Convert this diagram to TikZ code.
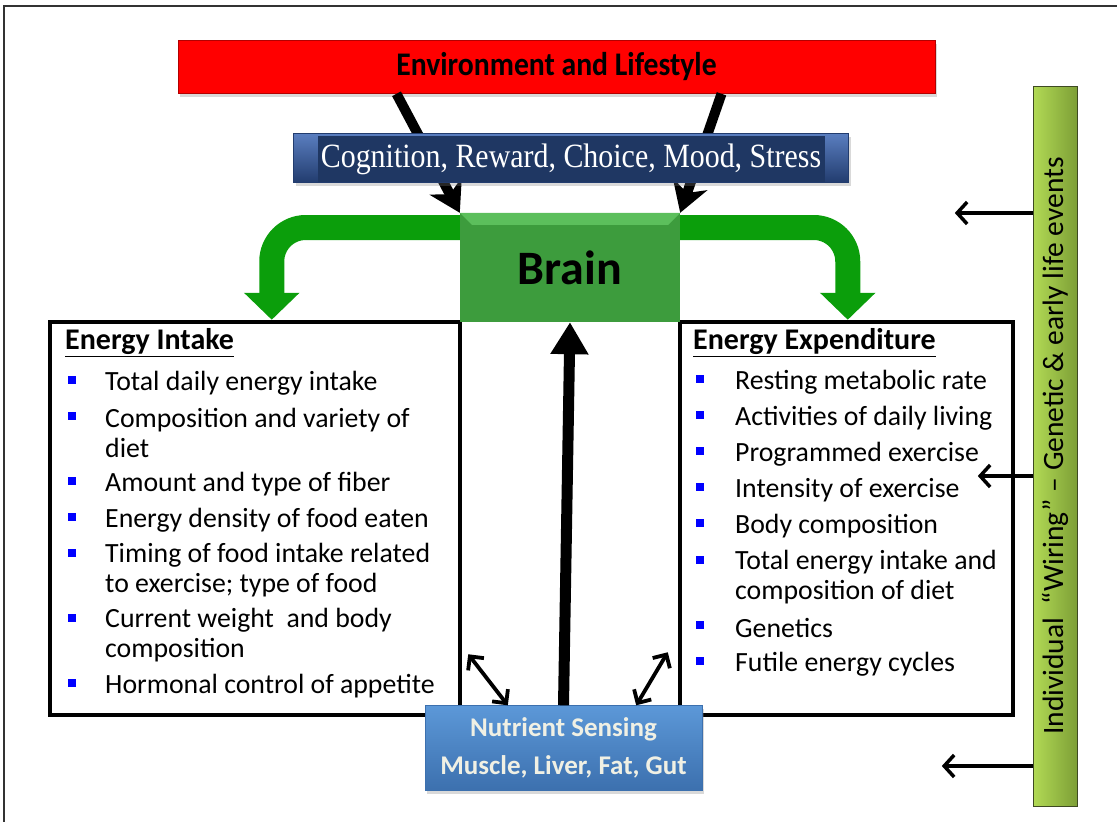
\documentclass[tikz,border=0pt]{standalone}
\usepackage{fontspec}
\setmainfont{Carlito}
\newfontfamily\cogfont{Liberation Serif}
\usetikzlibrary{arrows.meta,shadows}

\definecolor{envred}{HTML}{FF0000}
\definecolor{coglight}{HTML}{5A7EC0}
\definecolor{cogdark}{HTML}{223C6E}
\definecolor{cognavy}{HTML}{1F3763}
\definecolor{braingreen}{HTML}{3D9C3D}
\definecolor{brainlight}{HTML}{5CBF5C}
\definecolor{arrowgreen}{HTML}{0B9E0B}
\definecolor{nutlight}{HTML}{5C98D8}
\definecolor{nutdark}{HTML}{3C70AE}
\definecolor{nuttext}{HTML}{F0F0E4}
\definecolor{barlight}{HTML}{B2DA55}
\definecolor{bardark}{HTML}{7D9F36}
\definecolor{barline}{HTML}{3E4A22}
\definecolor{bulletblue}{HTML}{0000FF}

\tikzset{
  envbox/.style={fill=envred, draw=envred!70!black, line width=0.6pt,
    minimum width=757pt, minimum height=53pt, inner sep=0pt,
    font=\fontsize{33}{38}\selectfont\bfseries,
    drop shadow={opacity=0.3, shadow xshift=2pt, shadow yshift=-3pt}},
  cogbox/.style={top color=coglight, bottom color=cogdark, draw=cogdark,
    minimum width=555pt, minimum height=49pt, inner sep=0pt,
    drop shadow={opacity=0.3, shadow xshift=2pt, shadow yshift=-3pt}},
  coginner/.style={fill=cognavy, minimum width=507pt, minimum height=46pt,
    inner sep=0pt, text=white, font=\cogfont\fontsize{34}{38}\selectfont},
  brainbox/.style={fill=braingreen, minimum width=220pt, minimum height=109pt,
    inner sep=0pt},
  panel/.style={draw, line width=4.5pt, fill=white, inner sep=0pt},
  head/.style={anchor=west, inner sep=0pt, font=\fontsize{30}{35}\selectfont\bfseries},
  item/.style={anchor=west, align=left, inner sep=0pt, font=\fontsize{27.8}{30}\selectfont},
  nutbox/.style={top color=nutlight, bottom color=nutdark, draw=nutdark,
    minimum width=277pt, minimum height=85pt, align=center, text=nuttext,
    font=\fontsize{27}{38}\selectfont\bfseries,
    drop shadow={opacity=0.3, shadow xshift=2pt, shadow yshift=-3pt}},
  gbar/.style={left color=barlight, right color=bardark, draw=barline,
    minimum width=720pt, minimum height=44pt, inner sep=0pt, rotate=90,
    font=\fontsize{29.5}{30}\selectfont},
  greenband/.style={draw=arrowgreen, line width=25pt, rounded corners=34pt,
    -{Triangle[width=54pt,length=27pt]}},
  fatarrow/.style={line width=10pt, -{Stealth[length=30pt,width=36pt,inset=9pt]}},
  uparrow/.style={line width=11pt, -{Triangle[length=32pt,width=36pt]}},
  twoway/.style={line width=3.8pt,
    {Straight Barb[length=10pt,width=20pt]}-{Straight Barb[length=10pt,width=20pt]}},
  sidearrow/.style={line width=3.5pt, -{Straight Barb[length=10pt,width=22pt]}}
}

\begin{document}
\begin{tikzpicture}[x=1pt, y=-1pt]
  \useasboundingbox (0,0) rectangle (1117,822);
  % outer frame
  \draw[line width=1.5pt, black!80] (4,822) -- (4,6) -- (1117,6);

  % the two panels
  \node[panel, minimum width=410pt, minimum height=393pt] (intake) at (255,518.5) {};
  \node[panel, minimum width=333pt, minimum height=393pt] (expend) at (846.5,518.5) {};

  \node[envbox] (env) at (556.5,67) {\scalebox{0.9}[1]{Environment and Lifestyle}};
  \node[brainbox] (brain) at (570,267.5) {};
  \fill[brainlight] (brain.north west) -- (brain.north east)
    -- ([xshift=-12pt,yshift=-12pt]brain.north east)
    -- ([xshift=12pt,yshift=-12pt]brain.north west) -- cycle;
  \node[font=\fontsize{48}{50}\selectfont\bfseries] (brainlabel) at (brain) {Brain};

  % green arrows out of the brain
  \draw[greenband] ([yshift=40pt]brain.west) -| ([xshift=224pt]intake.north west);
  \draw[greenband] ([yshift=40pt]brain.east) -| ([xshift=170pt]expend.north west);

  % environment to brain
  \draw[fatarrow] ([xshift=-160pt]env.south) -- (brain.north west);
  \draw[fatarrow] ([xshift=165pt]env.south) -- (brain.north east);

  \node[cogbox] (cog) at (571,158) {};
  \node[coginner] (coglabel) at (571,159) {\scalebox{0.88}[1]{Cognition, Reward, Choice, Mood, Stress}};

  % energy intake
  \node[head] (inhead) at (65,343) {\underline{Energy Intake}};
  \foreach \y/\b/\t [count=\n] in {383/380/{Total daily energy intake},
      433/416/{Composition and variety of\\diet},
      484/481/{Amount and type of fiber},
      520/517/{Energy density of food eaten},
      570/553/{Timing of food intake related\\to exercise; type of food},
      635/618/{Current weight\ \ and body\\composition},
      686/683/{Hormonal control of appetite}}{
    \node[item] (in\n) at (105,\y) {\t};
    \fill[bulletblue] (68,\b-4) rectangle ++(8,8);
  }

  % energy expenditure
  \node[head] (exhead) at (693,343) {\underline{Energy Expenditure}};
  \foreach \y/\b/\t [count=\n] in {382/379/{Resting metabolic rate},
      418/415/{Activities of daily living},
      454/451/{Programmed exercise},
      490/487/{Intensity of exercise},
      526/523/{Body composition},
      577/560/{Total energy intake and\\composition of diet},
      628/625/{Genetics},
      664/661/{Futile energy cycles}}{
    \node[item] (ex\n) at (735,\y) {\t};
    \fill[bulletblue] (696,\b-4) rectangle ++(8,8);
  }

  \node[nutbox] (nutrient) at (563.5,748) {Nutrient Sensing\\Muscle, Liver, Fat, Gut};
  \draw[uparrow] (nutrient.north) -- (brain.south);
  \draw[twoway] ([xshift=6pt,yshift=63pt]intake.south east) -- ([xshift=83pt]nutrient.north west);
  \draw[twoway] ([xshift=-10pt,yshift=65pt]expend.south west) -- ([xshift=-66pt]nutrient.north east);

  % individual wiring
  \node[gbar] (wiring) at (1055,446) {Individual\ \ “Wiring” – Genetic \& early life events};
  \draw[sidearrow] ([yshift=233pt]wiring.north) -- ++(-78,0);
  \draw[sidearrow] ([yshift=-30pt]wiring.north) -- ++(-55,0);
  \draw[sidearrow] ([yshift=-320pt]wiring.north) -- ++(-91,0);
\end{tikzpicture}
\end{document}
